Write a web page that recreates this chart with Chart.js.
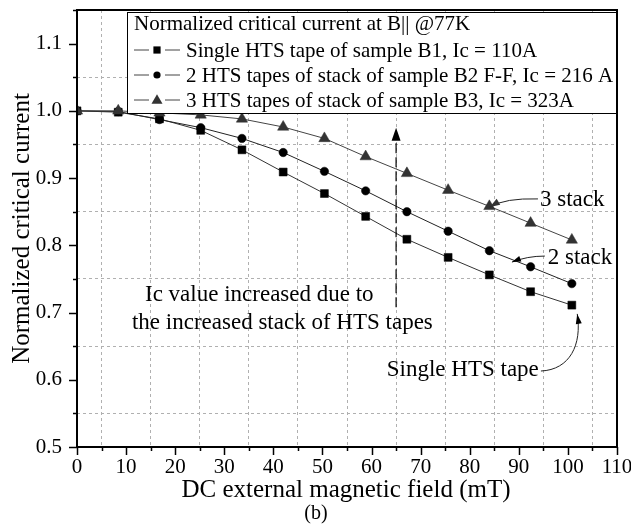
<!DOCTYPE html>
<html lang="en">

<head>
    <meta charset="UTF-8">
    <title>Normalized critical current</title>
    <style>
        body {
            margin: 0;
            padding: 0;
            background-color: #fff;
        }

        #wrap {
            width: 631px;
            height: 525px;
        }
    </style>
</head>

<body>

    <div id="wrap">
        <canvas id="icChart" width="631" height="525"></canvas>
    </div>

    <script src="https://cdn.jsdelivr.net/npm/chart.js"></script>

    <script>
        // field steps (mT) and normalized Ic
        var fieldMT = [0, 8.4, 16.8, 25.2, 33.6, 42, 50.4, 58.8, 67.2, 75.6, 84, 92.4, 100.8];
        var singleTape = [1.0, 0.998, 0.988, 0.971, 0.942, 0.909, 0.877, 0.843, 0.809, 0.782, 0.756, 0.731, 0.711];
        var stack2 = [1.0, 0.999, 0.987, 0.975, 0.959, 0.938, 0.910, 0.881, 0.850, 0.821, 0.792, 0.768, 0.743];
        var stack3 = [1.0, 1.0, 0.997, 0.994, 0.988, 0.976, 0.959, 0.932, 0.907, 0.882, 0.858, 0.833, 0.808];

        var seriesNames = [
            'Single HTS tape of sample B1, Ic = 110A',
            '2 HTS tapes of stack of sample B2 F-F, Ic = 216 A',
            '3 HTS tapes of stack of sample B3, Ic = 323A'
        ];
        var legendTitle = 'Normalized critical current at B|| @77K';
        var xTitle = 'DC external magnetic field (mT)';
        var yTitle = 'Normalized critical current';
        var caption = '(b)';

        var SERIF = '"Liberation Serif", "Times New Roman", serif';

        function pts(ys) {
            return fieldMT.map(function (x, i) { return { x: x, y: ys[i] }; });
        }

        // draw a small marker like the ones in the plot (used for the legend)
        function marker(ctx, style, x, y, r, color) {
            ctx.fillStyle = color;
            ctx.beginPath();
            if (style === 'rect') {
                ctx.rect(x - r, y - r, 2 * r, 2 * r);
            } else if (style === 'circle') {
                ctx.arc(x, y, r, 0, Math.PI * 2);
            } else {
                ctx.moveTo(x, y - r * 1.15);
                ctx.lineTo(x + r * 1.1, y + r * 0.75);
                ctx.lineTo(x - r * 1.1, y + r * 0.75);
                ctx.closePath();
            }
            ctx.fill();
        }

        function arrowHead(ctx, tx, ty, fromX, fromY, len, half) {
            var ang = Math.atan2(ty - fromY, tx - fromX);
            ctx.beginPath();
            ctx.moveTo(tx, ty);
            ctx.lineTo(tx - len * Math.cos(ang) + half * Math.sin(ang), ty - len * Math.sin(ang) - half * Math.cos(ang));
            ctx.lineTo(tx - len * Math.cos(ang) - half * Math.sin(ang), ty - len * Math.sin(ang) + half * Math.cos(ang));
            ctx.closePath();
            ctx.fill();
        }

        // legend box + annotations, drawn over the data
        var overlay = {
            id: 'overlay',
            afterDatasetsDraw: function (chart) {
                var ctx = chart.ctx, a = chart.chartArea;
                var xs = chart.scales.x, ys = chart.scales.y;
                function p(xv, yv) { return [xs.getPixelForValue(xv), ys.getPixelForValue(yv)]; }

                ctx.save();
                // legend
                var lx = 127, ly = 12, lh = 101;
                ctx.fillStyle = '#fff';
                ctx.fillRect(lx, ly, a.right - lx, lh);
                ctx.strokeStyle = '#000';
                ctx.lineWidth = 1;
                ctx.strokeRect(lx + 0.5, ly + 0.5, a.right - lx, lh);

                ctx.font = '21px ' + SERIF;
                ctx.fillStyle = '#000';
                ctx.textBaseline = 'middle';
                ctx.textAlign = 'left';
                ctx.fillText(legendTitle, 134, 24);

                var rowsY = [50, 75, 100];
                chart.data.datasets.forEach(function (ds, i) {
                    var yy = rowsY[i];
                    ctx.strokeStyle = '#444';
                    ctx.lineWidth = 1;
                    ctx.beginPath();
                    ctx.moveTo(134, yy); ctx.lineTo(149, yy);
                    ctx.moveTo(165, yy); ctx.lineTo(180, yy);
                    ctx.stroke();
                    marker(ctx, ds.pointStyle, 157, yy, ds.pointStyle === 'triangle' ? 5 : 3.6, ds.pointBackgroundColor);
                    ctx.fillStyle = '#000';
                    ctx.fillText(ds.label, 186, yy + 1);
                });

                // annotations
                ctx.font = '23px ' + SERIF;
                ctx.fillStyle = '#000';
                var t = p(13.85, 0.726);
                ctx.fillText('Ic value increased due to', t[0], t[1]);
                t = p(11.2, 0.685);
                ctx.fillText('the increased stack of HTS tapes', t[0], t[1]);
                t = p(94.3, 0.867);
                ctx.fillText('3 stack', t[0], t[1]);
                t = p(95.9, 0.781);
                ctx.fillText('2 stack', t[0], t[1]);
                t = p(63.1, 0.615);
                ctx.fillText('Single HTS tape', t[0], t[1]);

                // dashed vertical arrow at 65 mT
                var b = p(65, 0.708), tp = p(65, 0.975);
                ctx.strokeStyle = '#000';
                ctx.lineWidth = 1.2;
                ctx.setLineDash([10, 4]);
                ctx.beginPath();
                ctx.moveTo(b[0], b[1]);
                ctx.lineTo(tp[0], tp[1] + 10);
                ctx.stroke();
                ctx.setLineDash([]);
                ctx.fillStyle = '#000';
                arrowHead(ctx, tp[0], tp[1], b[0], b[1], 13, 4.5);

                // curved pointers
                ctx.lineWidth = 1;
                ctx.strokeStyle = '#222';
                var s = p(93.9, 0.869), c = p(87.2, 0.8705), e = p(84.1, 0.857);
                ctx.beginPath(); ctx.moveTo(s[0], s[1]); ctx.quadraticCurveTo(c[0], c[1], e[0], e[1]); ctx.stroke();
                ctx.fillStyle = '#333';
                arrowHead(ctx, e[0], e[1], c[0], c[1], 10, 3.5);

                s = p(95.3, 0.784); c = p(91.7, 0.784); e = p(88.6, 0.775);
                ctx.beginPath(); ctx.moveTo(s[0], s[1]); ctx.quadraticCurveTo(c[0], c[1], e[0], e[1]); ctx.stroke();
                ctx.fillStyle = '#000';
                arrowHead(ctx, e[0], e[1], c[0], c[1], 9, 3);

                s = p(94.5, 0.613);
                var c1 = p(100.4, 0.615), c2 = p(102.9, 0.652);
                e = p(101.9, 0.698);
                ctx.beginPath(); ctx.moveTo(s[0], s[1]); ctx.bezierCurveTo(c1[0], c1[1], c2[0], c2[1], e[0], e[1]); ctx.stroke();
                arrowHead(ctx, e[0], e[1], c2[0], c2[1], 10, 3);
                ctx.restore();
            },
            afterDraw: function (chart) {
                var ctx = chart.ctx, a = chart.chartArea;
                var xs = chart.scales.x, ys = chart.scales.y;
                ctx.save();
                ctx.strokeStyle = '#000';
                ctx.lineWidth = 1.5;
                ctx.beginPath();
                xs.ticks.forEach(function (tk) {
                    var px = Math.round(xs.getPixelForValue(tk.value)) + 0.5;
                    var len = Math.round(tk.value) % 10 === 0 ? 8 : 4;
                    ctx.moveTo(px, a.bottom); ctx.lineTo(px, a.bottom + len);
                });
                ys.ticks.forEach(function (tk) {
                    var py = Math.round(ys.getPixelForValue(tk.value)) + 0.5;
                    var len = Math.round(tk.value * 100) % 10 === 0 ? 8 : 4;
                    ctx.moveTo(a.left, py); ctx.lineTo(a.left - len, py);
                });
                ctx.stroke();

                ctx.lineWidth = 2;
                ctx.strokeRect(a.left, a.top, a.right - a.left, a.bottom - a.top);

                // axis titles and caption
                ctx.fillStyle = '#000';
                ctx.textAlign = 'center';
                ctx.textBaseline = 'middle';
                ctx.font = '25px ' + SERIF;
                ctx.fillText(xTitle, (a.left + a.right) / 2 - 1, 490);
                ctx.font = '20px ' + SERIF;
                ctx.fillText(caption, 316, 514);
                ctx.font = '25px ' + SERIF;
                ctx.translate(22, (a.top + a.bottom) / 2);
                ctx.rotate(-Math.PI / 2);
                ctx.fillText(yTitle, 0, 0);
                ctx.restore();
            }
        };

        var ctx = document.getElementById('icChart').getContext('2d');
        var icChart = new Chart(ctx, {
            type: 'line',
            data: {
                datasets: [{
                    label: seriesNames[0],
                    data: pts(singleTape),
                    borderColor: '#333',
                    borderWidth: 1,
                    pointStyle: 'rect',
                    pointRadius: 5.6,
                    pointBackgroundColor: '#000',
                    pointBorderColor: '#000',
                    pointBorderWidth: 0.5,
                    order: 3
                }, {
                    label: seriesNames[1],
                    data: pts(stack2),
                    borderColor: '#222',
                    borderWidth: 1,
                    pointStyle: 'circle',
                    pointRadius: 4.2,
                    pointBackgroundColor: '#000',
                    pointBorderColor: '#000',
                    pointBorderWidth: 0.5,
                    order: 2
                }, {
                    label: seriesNames[2],
                    data: pts(stack3),
                    borderColor: '#444',
                    borderWidth: 1,
                    pointStyle: 'triangle',
                    pointRadius: 6.5,
                    pointBackgroundColor: '#333',
                    pointBorderColor: '#333',
                    pointBorderWidth: 0.5,
                    order: 1
                }]
            },
            options: {
                responsive: false,
                animation: false,
                events: [],
                layout: { padding: { top: 10, right: 14, left: 0, bottom: 0 } },
                plugins: {
                    legend: { display: false },
                    tooltip: { enabled: false }
                },
                scales: {
                    x: {
                        type: 'linear',
                        min: 0,
                        max: 110,
                        border: { display: false, dash: [3, 3] },
                        grid: {
                            drawTicks: false,
                            lineWidth: 1,
                            color: function (c) {
                                return Math.round(c.tick.value) % 10 === 0 ? 'rgba(0,0,0,0)' : '#b0b0b0';
                            }
                        },
                        ticks: {
                            stepSize: 5,
                            padding: 8,
                            autoSkip: false,
                            maxRotation: 0,
                            color: '#000',
                            font: { family: SERIF, size: 21 },
                            callback: function (v) { return Math.round(v) % 10 === 0 ? String(v) : ''; }
                        },
                        afterFit: function (s) { s.height = 78; s.paddingLeft = 0; s.paddingRight = 0; }
                    },
                    y: {
                        min: 0.5,
                        max: 1.15,
                        border: { display: false, dash: [3, 3] },
                        grid: {
                            drawTicks: false,
                            lineWidth: 1,
                            color: function (c) {
                                return Math.round(c.tick.value * 100) % 10 === 0 ? 'rgba(0,0,0,0)' : '#b0b0b0';
                            }
                        },
                        ticks: {
                            stepSize: 0.05,
                            padding: 15,
                            autoSkip: false,
                            color: '#000',
                            font: { family: SERIF, size: 21 },
                            callback: function (v) { return Math.round(v * 100) % 10 === 0 ? v.toFixed(1) : ''; }
                        },
                        afterFit: function (s) { s.width = 77; s.paddingTop = 0; s.paddingBottom = 0; }
                    }
                }
            },
            plugins: [overlay]
        });
    </script>

</body>

</html>
